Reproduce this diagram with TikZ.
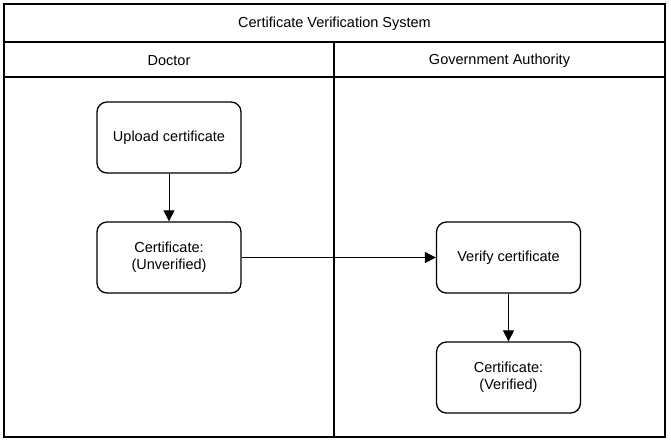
\documentclass[tikz,border=0pt]{standalone}
\usepackage{fontspec}
\setmainfont{Liberation Sans}
\usetikzlibrary{arrows.meta}
\begin{document}
\begin{tikzpicture}[x=1pt,y=-1pt,
  lane/.style={draw=black,line width=2pt},
  stepbox/.style={draw=black,line width=1.3pt,rounded corners=10pt,minimum width=144pt,minimum height=71pt,align=center,inner sep=0pt,font=\fontsize{14.5}{17}\selectfont},
  hdr/.style={font=\fontsize{14.5}{17}\selectfont,inner sep=0pt},
  conn/.style={draw=black,line width=1pt,-{Triangle[length=11pt,width=11pt]}}]
\useasboundingbox (0,0) rectangle (671,445);
\fill[white] (0,0) rectangle (671,445);
\draw[lane] (4,4) rectangle (665,437);
\draw[lane] (4,41.5) -- (665,41.5);
\draw[lane] (4,76.5) -- (665,76.5);
\draw[lane] (334,41.5) -- (334,437);
\node[hdr] (title) at (334.5,24) {Certificate Verification System};
\node[hdr] (doctor) at (169,60.5) {Doctor};
\node[hdr] (gov) at (499.5,60.5) {Government Authority};
\node[stepbox] (upload) at (169,137.5) {Upload certificate};
\node[stepbox] (unver) at (169,257.5) {Certificate:\\(Unverified)};
\node[stepbox] (verify) at (508.5,257.5) {Verify certificate};
\node[stepbox] (ver) at (508.5,377.5) {Certificate:\\(Verified)};
\draw[conn] (upload) -- (unver);
\draw[conn] (unver) -- (verify);
\draw[conn] (verify) -- (ver);
\end{tikzpicture}
\end{document}
